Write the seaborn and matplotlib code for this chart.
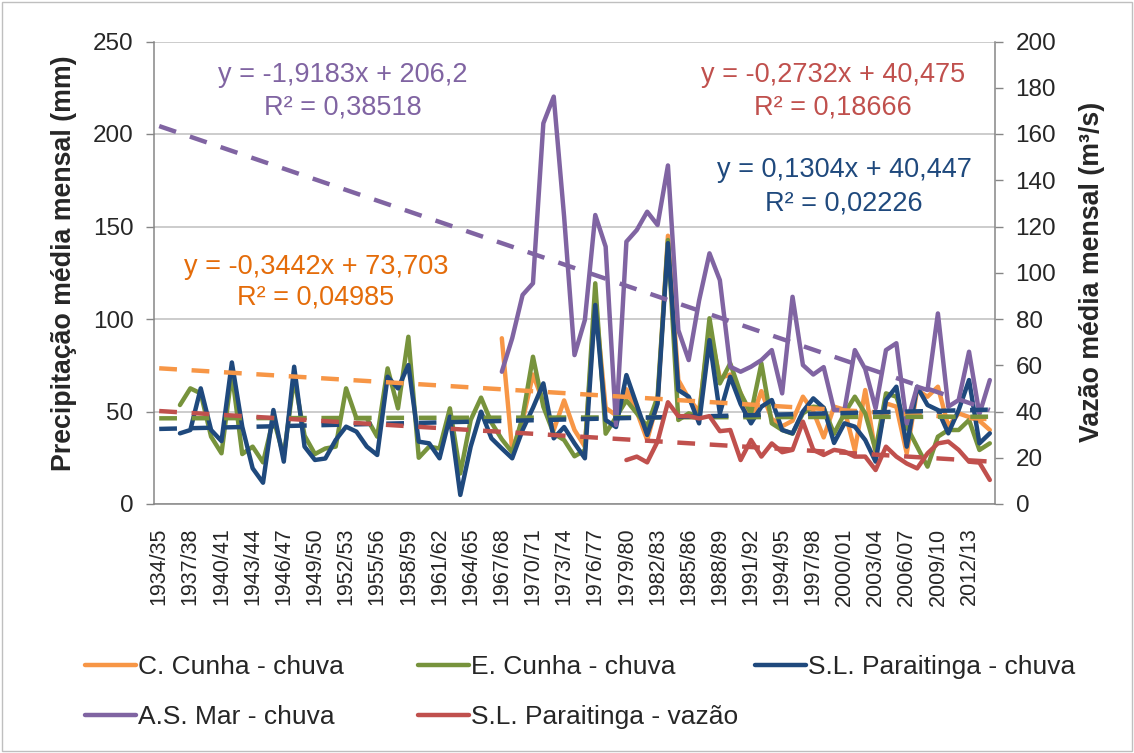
import numpy as np
import pandas as pd
import matplotlib
matplotlib.use("Agg")
import matplotlib.pyplot as plt
import seaborn as sns
from matplotlib.lines import Line2D
from matplotlib.patches import Rectangle

NaN = np.nan
seasons = [f"{y}/{str(y + 1)[-2:]}" for y in range(1934, 2015)]

c_cunha = [NaN] * 33 + [
    89.6, 29, 45, 70, 55, 40, 56, 40, 31, 110, 52, 48, 62, 50, 34.6, 55,
    145, 67, 57, 50, 95, 68, 70, 60, 45, 61, 46, 42, 45, 58, 50, 36,
    52.6, 51, 29, 61.6, 27.4, 54.4, 52.6, 27.4, 61.6, 58, 63.4, 42, 49, 47, 45, 40]

e_cunha = [NaN] * 2 + [
    53.5, 62.5, 59.8, 36.4, 27.4, 70.8, 27, 31, 22.5, 46,
    26, 68, 37, 27, 30, 31, 62.5, 46.3, 46.3, 36.4,
    73.3, 51.7, 90.4, 25, 31, 30, 51.7, 16.5, 45.4, 57.5,
    44, 35, 27.9, 47, 79.6, 52.6, 38, 34.6, 25.8, 29,
    119.3, 38, 47, 56, 49, 42, 58, 142.7, 45.4, 49,
    47, 100.4, 65.2, 76, 59.8, 49, 76, 43.6, 40, 38,
    49, 52.6, 52, 38, 49, 58, 49, 29.2, 59.8, 58,
    41.8, 31, 20.2, 36.4, 40, 40, 45.4, 29.2, 32.8]

sl_chuva = [NaN] * 2 + [
    38.2, 40, 62.5, 40, 34, 76.5, 41.8, 19.3, 11.5, 50.8,
    22.9, 74.2, 31, 23.8, 24.6, 34.6, 41.8, 39.1, 31, 26.5,
    68.8, 62.5, 75.1, 33.7, 32.8, 24.7, 47.2, 4.9, 31, 49.9,
    35.5, 30, 24.7, 40, 52, 65.2, 35.5, 41.6, 32.8, 24.7,
    107.6, 45.4, 41.6, 69.7, 53.5, 37.3, 54.2, 141, 61.6, 58,
    43.6, 88.6, 49, 68.8, 54, 43.6, 52.6, 56.2, 40, 38.2,
    50, 57.1, 52, 33, 43.6, 41.8, 34.6, 22.9, 56.2, 63.4,
    31, 63.4, 53.5, 50.8, 38.2, 50.8, 67, 32.8, 38.2]

as_mar = [NaN] * 33 + [
    71.5, 89.6, 113, 119.3, 205.8, 220.2, 155.3, 80.5, 99.5, 156.2,
    139.1, 42.7, 141.8, 148.1, 158, 150.8, 183, 94, 77.8, 110,
    135.5, 121, 74.2, 71.5, 74.2, 77.8, 83.2, 59.8, 112, 75.1,
    70, 74, 50.8, 50.8, 83.2, 73, 51.7, 83.2, 86.9, 43.6,
    63.4, 61.6, 103, 52.6, 56.2, 82.3, 48.6, 67]

sl_vazao = [NaN] * 45 + [
    19, 20.5, 18, 27, 44, 38, 38, 37, 38, 31.5,
    32, 19, 27.7, 20.5, 26.2, 22.4, 23.4, 35.6, 23.4, 21.2,
    23.4, 22.7, 20.5, 20.5, 14.7, 24.8, 20.5, 17.5, 15.4, 21.9,
    26.2, 27, 23.4, 18.3, 17.9, 10.4]

# trendline coefficients (slope, intercept), x = 1..81
trend_c = (-0.3442, 73.703)
trend_e = (0.011, 46.3)
trend_sl = (0.1304, 40.447)
trend_as = (-1.9183, 206.2)
trend_vz = (-0.2732, 40.475)

names = ["C. Cunha - chuva", "E. Cunha - chuva", "S.L. Paraitinga - chuva",
         "A.S. Mar - chuva", "S.L. Paraitinga - vazão"]
colors = ["#F79646", "#77933C", "#1F497D", "#8064A2", "#C0504D"]
eq_colors = ["#E46C0A", "#77933C", "#1F497D", "#8064A2", "#C0504D"]

sns.set_style("white")
plt.rcParams["font.family"] = ["Liberation Sans", "DejaVu Sans"]

idx = np.arange(len(seasons))
df = pd.DataFrame({"idx": idx, "C": c_cunha, "E": e_cunha, "S": sl_chuva,
                   "A": as_mar, "V": sl_vazao})
trends = pd.DataFrame({
    "idx": idx,
    "C": trend_c[0] * (idx + 1) + trend_c[1],
    "E": trend_e[0] * (idx + 1) + trend_e[1],
    "S": trend_sl[0] * (idx + 1) + trend_sl[1],
    "A": trend_as[0] * (idx + 1) + trend_as[1],
    "V": trend_vz[0] * (idx + 1) + trend_vz[1],
})

W, H = 1134, 753
fig = plt.figure(figsize=(W / 100, H / 100), dpi=100)
ax = fig.add_axes([154 / W, 1 - 504 / H, (995 - 154) / W, (504 - 41.5) / H])
ax2 = ax.twinx()

LW = 3.2
DASH = (0, (4.0, 3.3))
keys = ["C", "E", "S", "A"]
for k, c in zip(keys, colors[:4]):
    sns.lineplot(data=df, x="idx", y=k, ax=ax, color=c, lw=LW, legend=False, zorder=2)
for k, c in zip(keys, colors[:4]):
    sns.lineplot(data=trends, x="idx", y=k, ax=ax, color=c, lw=LW, legend=False,
                 linestyle=DASH, zorder=3)
sns.lineplot(data=df, x="idx", y="V", ax=ax2, color=colors[4], lw=LW, legend=False, zorder=2)
sns.lineplot(data=trends, x="idx", y="V", ax=ax2, color=colors[4], lw=LW, legend=False,
             linestyle=DASH, zorder=3)

spine_c = "#868686"
ax.set_xlim(-0.5, len(seasons) - 0.5)
ax.set_ylim(0, 250)
ax2.set_ylim(0, 200)
ax.set_yticks(range(0, 251, 50))
ax2.set_yticks(range(0, 201, 20))
ax.yaxis.grid(True, color="#BFBFBF", lw=1.1)
ax.xaxis.grid(False)
ax.set_axisbelow(True)
for a in (ax, ax2):
    a.set_xlabel("")
    a.set_ylabel("")
    for s in a.spines.values():
        s.set_color(spine_c)
        s.set_linewidth(1.1)
    a.spines["top"].set_visible(False)
ax.spines["right"].set_visible(False)
ax2.spines["left"].set_visible(False)
ax2.spines["bottom"].set_visible(False)

ax.set_xticks(idx[::3])
ax.set_xticklabels(seasons[::3], rotation=90, fontsize=15.5)
ax.set_xticks(np.arange(-0.5, len(seasons), 1), minor=True)
ax.tick_params(axis="x", which="major", length=0, pad=17)
ax.tick_params(axis="x", which="minor", length=4.5, color=spine_c, width=1, direction="out")
ax.tick_params(axis="y", which="major", length=5.8, color=spine_c, width=1,
               labelsize=17.5, pad=9)
ax2.tick_params(axis="y", which="major", length=5.8, color=spine_c, width=1,
                labelsize=17.5, pad=9)

fig.text(64 / W, 1 - 263 / H, "Precipitação média mensal (mm)", rotation=90,
         ha="center", va="center", fontsize=19.3, fontweight="bold")
fig.text(1092 / W, 1 - 272 / H, "Vazão média mensal (m³/s)", rotation=90,
         ha="center", va="center", fontsize=19.3, fontweight="bold")

eqs = [
    (343, 75, 108, "y = -1,9183x + 206,2", "R² = 0,38518", eq_colors[3]),
    (833, 75, 108, "y = -0,2732x + 40,475", "R² = 0,18666", eq_colors[4]),
    (844, 170, 203, "y = 0,1304x + 40,447", "R² = 0,02226", eq_colors[2]),
    (316, 267, 298, "y = -0,3442x + 73,703", "R² = 0,04985", eq_colors[0]),
]
for x, y1, y2, t1, t2, c in eqs:
    fig.text(x / W, 1 - y1 / H, t1, ha="center", va="center", fontsize=19.5, color=c)
    fig.text(x / W, 1 - y2 / H, t2, ha="center", va="center", fontsize=19.5, color=c)

leg_pos = [(85, 667), (418, 667), (755, 667), (85, 717), (418, 717)]
for (x, y), n, c in zip(leg_pos, names, colors):
    h = Line2D([], [], color=c, lw=LW)
    fig.legend([h], [n], loc="center left", bbox_to_anchor=(x / W, 1 - y / H),
               frameon=False, borderpad=0, borderaxespad=0, handlelength=1.95,
               handletextpad=0.05, fontsize=19)

fig.patches.append(Rectangle((0.002, 0.002), 0.996, 0.996, transform=fig.transFigure,
                             fill=False, edgecolor="#BFBFBF", lw=1))

fig.savefig("out.png", dpi=100)
